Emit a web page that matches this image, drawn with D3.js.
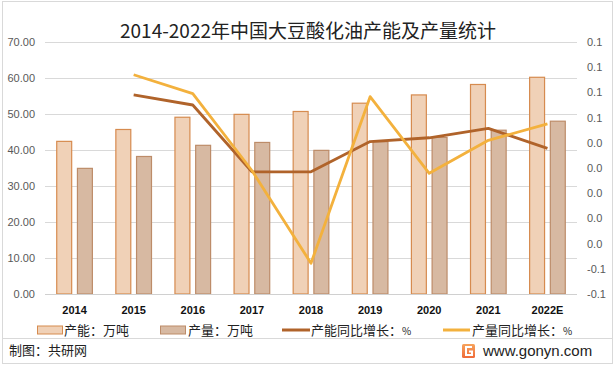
<!DOCTYPE html>
<html>
<head>
<meta charset="utf-8">
<script src="https://cdn.jsdelivr.net/npm/d3@7"></script>
<style>
  body { margin: 0; background: #fff; }
  svg { display: block; font-family: "Noto Sans CJK SC", "Liberation Sans", sans-serif; }
</style>
</head>
<body>
<div id="chart"></div>
<script>
// ---- data ----
const years = ['2014', '2015', '2016', '2017', '2018', '2019', '2020', '2021', '2022E'];
const capacity = [42.4, 45.7, 49.1, 49.9, 50.7, 53.0, 55.3, 58.2, 60.2];      // 产能：万吨
const output = [34.9, 38.2, 41.3, 42.1, 39.9, 42.3, 43.5, 45.5, 48.0];        // 产量：万吨
const capGrowth = [null, 0.078, 0.070, 0.017, 0.017, 0.041, 0.044, 0.0515, 0.0356];
const outGrowth = [null, 0.094, 0.079, 0.018, -0.0556, 0.0766, 0.0158, 0.042, 0.055];
const leftTicks = [0, 10, 20, 30, 40, 50, 60, 70];
const rightTicks = [-0.08, -0.06, -0.04, -0.02, 0, 0.02, 0.04, 0.06, 0.08, 0.10, 0.12];

const W = 615, H = 371;
const margin = { left: 45, right: 38, top: 42, bottom: 77 };

const svg = d3.select('#chart').append('svg')
    .attr('width', W)
    .attr('height', H);

// frame
svg.append('rect')
    .attr('x', 2.5).attr('y', 1.5)
    .attr('width', W - 5).attr('height', 362)
    .attr('fill', '#fff')
    .attr('stroke', '#d9d9d9');

svg.append('text')
    .attr('x', 308).attr('y', 38)
    .attr('text-anchor', 'middle')
    .attr('font-size', '19px')
    .attr('fill', '#222')
    .text('2014-2022年中国大豆酸化油产能及产量统计');

const x0 = d3.scaleBand()
    .domain(years)
    .range([margin.left, W - margin.right])
    .paddingInner(0.38)
    .paddingOuter(0.19);

const x1 = d3.scaleBand()
    .domain(['cap', 'out'])
    .range([0, x0.bandwidth()])
    .paddingInner(0.23);

const y = d3.scaleLinear().domain([0, 70]).range([H - margin.bottom, margin.top]);
const y2 = d3.scaleLinear().domain([-0.08, 0.12]).range([H - margin.bottom, margin.top]);

// grid
svg.append('g')
    .selectAll('line')
    .data(leftTicks)
    .enter()
    .append('line')
    .attr('x1', margin.left)
    .attr('x2', W - margin.right)
    .attr('y1', d => y(d))
    .attr('y2', d => y(d))
    .attr('stroke', '#d9d9d9')
    .attr('stroke-width', 1)
    .attr('shape-rendering', 'crispEdges');

// left axis
const yAxis = d3.axisLeft(y).tickValues(leftTicks).tickFormat(d3.format('.2f')).tickSize(0).tickPadding(10);
svg.append('g')
    .attr('transform', `translate(${margin.left},0)`)
    .call(yAxis)
    .call(g => g.select('.domain').remove())
    .selectAll('text')
    .attr('font-family', '"Liberation Sans", Arial, sans-serif')
    .attr('font-size', '11px')
    .attr('fill', '#595959');

// right axis
const fmt1 = v => (Math.round(v * 10) / 10).toFixed(1);
const yAxis2 = d3.axisRight(y2).tickValues(rightTicks).tickFormat(fmt1).tickSize(0).tickPadding(10);
svg.append('g')
    .attr('transform', `translate(${W - margin.right},0)`)
    .call(yAxis2)
    .call(g => g.select('.domain').remove())
    .selectAll('text')
    .attr('font-family', '"Liberation Sans", Arial, sans-serif')
    .attr('font-size', '11px')
    .attr('fill', '#595959');

// bars
const groups = svg.append('g')
    .selectAll('g')
    .data(years)
    .enter()
    .append('g')
    .attr('transform', d => `translate(${x0(d)},0)`);

groups.append('rect')
    .attr('x', x1('cap') + 0.5)
    .attr('y', (d, i) => y(capacity[i]))
    .attr('width', x1.bandwidth() - 1)
    .attr('height', (d, i) => y(0) - y(capacity[i]))
    .attr('fill', '#f0d1b7')
    .attr('stroke', '#d68b4f')
    .attr('stroke-width', 1.2);

groups.append('rect')
    .attr('x', x1('out') + 0.5)
    .attr('y', (d, i) => y(output[i]))
    .attr('width', x1.bandwidth() - 1)
    .attr('height', (d, i) => y(0) - y(output[i]))
    .attr('fill', '#d7b9a2')
    .attr('stroke', '#bd8c69')
    .attr('stroke-width', 1.2);

// baseline
svg.append('line')
    .attr('x1', margin.left)
    .attr('x2', W - margin.right)
    .attr('y1', y(0))
    .attr('y2', y(0))
    .attr('stroke', '#d0d0d0')
    .attr('shape-rendering', 'crispEdges');

// x labels
svg.append('g')
    .attr('transform', `translate(0,${y(0)})`)
    .call(d3.axisBottom(x0).tickSize(0).tickPadding(12))
    .call(g => g.select('.domain').remove())
    .selectAll('text')
    .attr('font-family', '"Liberation Sans", Arial, sans-serif')
    .attr('font-weight', 'bold')
    .attr('font-size', '11px')
    .attr('fill', '#111');

// growth lines
const cx = d => x0(d) + x0.bandwidth() / 2;
const line = d3.line()
    .defined(d => d.v !== null)
    .x(d => cx(d.year))
    .y(d => y2(d.v));

svg.append('path')
    .datum(years.map((yr, i) => ({ year: yr, v: capGrowth[i] })))
    .attr('d', line)
    .attr('fill', 'none')
    .attr('stroke', '#b0632a')
    .attr('stroke-width', 2.8)
    .attr('stroke-linejoin', 'round');

svg.append('path')
    .datum(years.map((yr, i) => ({ year: yr, v: outGrowth[i] })))
    .attr('d', line)
    .attr('fill', 'none')
    .attr('stroke', '#f3b13d')
    .attr('stroke-width', 2.8)
    .attr('stroke-linejoin', 'round');

// legend
const legend = svg.append('g').attr('font-size', '13px').attr('fill', '#222');
const ly = 330;

legend.append('rect').attr('x', 37.5).attr('y', ly - 4).attr('width', 25).attr('height', 8)
    .attr('fill', '#f0d1b7').attr('stroke', '#d68b4f');
legend.append('text').attr('x', 64).attr('y', ly + 5).text('产能：万吨');

legend.append('rect').attr('x', 160.5).attr('y', ly - 4).attr('width', 25).attr('height', 8)
    .attr('fill', '#d7b9a2').attr('stroke', '#bd8c69');
legend.append('text').attr('x', 188).attr('y', ly + 5).text('产量：万吨');

legend.append('line').attr('x1', 282).attr('x2', 310).attr('y1', ly).attr('y2', ly)
    .attr('stroke', '#b0632a').attr('stroke-width', 3);
legend.append('text').attr('x', 311).attr('y', ly + 5)
    .call(t => t.append('tspan').text('产能同比增长：'))
    .call(t => t.append('tspan').attr('font-size', '10px').text('%'));

legend.append('line').attr('x1', 443).attr('x2', 470).attr('y1', ly).attr('y2', ly)
    .attr('stroke', '#f3b13d').attr('stroke-width', 3);
legend.append('text').attr('x', 472).attr('y', ly + 5)
    .call(t => t.append('tspan').text('产量同比增长：'))
    .call(t => t.append('tspan').attr('font-size', '10px').text('%'));

// footer
svg.append('line')
    .attr('x1', 3).attr('x2', W - 3)
    .attr('y1', 338).attr('y2', 338)
    .attr('stroke', '#d9d9d9')
    .attr('shape-rendering', 'crispEdges');

svg.append('text')
    .attr('x', 9).attr('y', 355)
    .attr('font-size', '13px')
    .attr('fill', '#222')
    .text('制图：共研网');

const grad = svg.append('defs').append('linearGradient')
    .attr('id', 'logo').attr('x1', 0).attr('y1', 0).attr('x2', 0).attr('y2', 1);
grad.append('stop').attr('offset', 0).attr('stop-color', '#f7a35c');
grad.append('stop').attr('offset', 1).attr('stop-color', '#ef6b3a');

const logo = svg.append('g').attr('transform', 'translate(462,344)');
logo.append('rect').attr('width', 13).attr('height', 14).attr('rx', 1.5).attr('fill', 'url(#logo)');
logo.append('path')
    .attr('d', 'M10,3 H4 V11 H10 V7.5 H7')
    .attr('fill', 'none').attr('stroke', '#fff').attr('stroke-width', 2);

svg.append('text')
    .attr('x', 483).attr('y', 356)
    .attr('font-family', '"Liberation Sans", Arial, sans-serif')
    .attr('font-size', '15px')
    .attr('fill', '#222')
    .text('www.gonyn.com');
</script>
</body>
</html>
